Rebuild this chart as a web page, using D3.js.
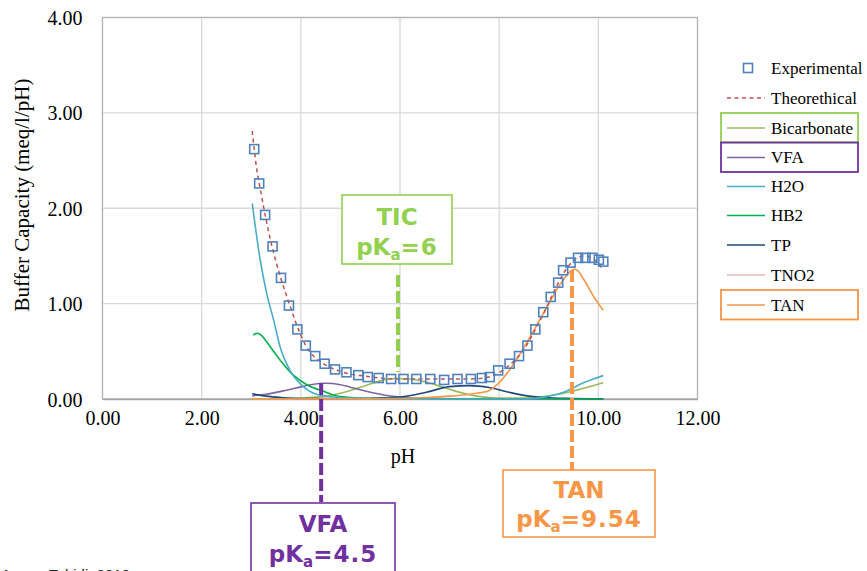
<!DOCTYPE html>
<html><head><meta charset="utf-8">
<script src="https://cdn.jsdelivr.net/npm/d3@7"></script>
<style>body{margin:0;background:#fff;}svg{display:block;}</style>
</head><body>
<svg id="c" width="867" height="571"></svg>
<script>
// ---- data (pH, buffer capacity meq/l/pH) ----
const expPH  = [3.06,3.16,3.28,3.43,3.60,3.76,3.93,4.10,4.29,4.48,4.69,4.92,5.16,5.35,5.57,5.82,6.07,6.33,6.61,6.89,7.16,7.43,7.65,7.81,7.98,8.21,8.40,8.57,8.73,8.89,9.04,9.19,9.29,9.44,9.59,9.74,9.88,10.01,10.10];
const expVal = [2.62,2.26,1.93,1.60,1.27,0.98,0.73,0.56,0.45,0.37,0.31,0.28,0.25,0.23,0.22,0.21,0.21,0.21,0.21,0.20,0.21,0.21,0.22,0.23,0.30,0.37,0.45,0.56,0.73,0.91,1.07,1.22,1.35,1.43,1.48,1.48,1.48,1.46,1.44];

const theoPH  = [3.02,3.1,3.2,3.3,3.4,3.5,3.6,3.7,3.8,3.9,4.0,4.1,4.2,4.3,4.4,4.6,4.8,5.0,5.3,5.6,6.0,6.5,7.0,7.4,7.7,7.9,8.1,8.3,8.5,8.7,8.9,9.1,9.3,9.5,9.7,9.9,10.1];
const theoVal = [2.81,2.45,2.15,1.88,1.64,1.44,1.26,1.10,0.95,0.80,0.67,0.56,0.48,0.43,0.39,0.33,0.29,0.26,0.24,0.22,0.21,0.21,0.21,0.21,0.22,0.25,0.31,0.40,0.52,0.70,0.90,1.12,1.32,1.45,1.50,1.47,1.35];

const bicPH  = [3.0,4.0,4.5,5.0,5.3,5.6,5.9,6.2,6.5,6.8,7.1,7.4,7.7,8.0,8.5,8.9,9.2,9.5,9.8,10.1];
const bicVal = [0.0,0.01,0.03,0.09,0.14,0.19,0.215,0.21,0.18,0.135,0.085,0.045,0.02,0.01,0.01,0.025,0.05,0.085,0.125,0.17];

const vfaPH  = [3.02,3.3,3.6,3.9,4.2,4.5,4.8,5.1,5.4,5.7,6.0,6.3,6.6,7.0,8.0,10.1];
const vfaVal = [0.035,0.05,0.08,0.115,0.15,0.165,0.15,0.11,0.07,0.04,0.02,0.01,0.005,0.002,0,0];

const h2oPH  = [3.02,3.18,3.31,3.45,3.58,3.78,4.05,4.39,5.0,6.0,8.5,9.0,9.3,9.5,9.7,9.9,10.1];
const h2oVal = [2.05,1.46,1.11,0.83,0.55,0.30,0.13,0.04,0.01,0.0,0.0,0.03,0.07,0.12,0.17,0.21,0.245];

const hb2PH  = [3.04,3.12,3.2,3.31,3.45,3.58,3.85,4.12,4.46,4.79,5.5,10.1];
const hb2Val = [0.67,0.69,0.67,0.60,0.50,0.41,0.25,0.15,0.08,0.025,0.005,0];

const tpPH  = [3.02,3.3,3.6,4.0,5.0,5.5,6.0,6.53,7.0,7.4,7.8,8.2,8.6,8.9,9.5,10.1];
const tpVal = [0.055,0.03,0.015,0.005,0.005,0.01,0.02,0.07,0.13,0.14,0.12,0.07,0.03,0.015,0.005,0];

const tno2PH  = [3.02,10.1];
const tno2Val = [0.0,0.0];

const tanPH  = [3.02,6.0,6.5,7.0,7.4,7.6,7.76,7.96,8.16,8.43,8.70,8.97,9.24,9.47,9.54,9.71,9.91,10.1];
const tanVal = [0.0,0.005,0.015,0.03,0.05,0.065,0.08,0.15,0.27,0.48,0.72,0.97,1.21,1.35,1.36,1.25,1.07,0.93];

const xTicks = [0,2,4,6,8,10,12];
const yTicks = [0,1,2,3,4];

const seriesNames  = ["Bicarbonate","VFA","H2O","HB2","TP","TNO2","TAN"];
const seriesColors = ["#9bbb59","#8064a2","#4bacc6","#00b050","#1f497d","#e6b9b8","#f79646"];
const seriesPH  = [bicPH,vfaPH,h2oPH,hb2PH,tpPH,tno2PH,tanPH];
const seriesVal = [bicVal,vfaVal,h2oVal,hb2Val,tpVal,tno2Val,tanVal];

// annotations: label, pKa text, marker pH (as drawn), colour
const annLabels = ["TIC","VFA","TAN"];
const annPKa    = ["6","4.5","9.54"];
const annLinePH = [5.96,4.41,9.47];
const annColors = ["#92d050","#7030a0","#f79646"];

// ---- drawing ----
const svg = d3.select("#c");
const x = d3.scaleLinear().domain([0,12]).range([102.5,697.5]);
const y = d3.scaleLinear().domain([0,4]).range([399,17.5]);
const serif = "'Liberation Serif','Times New Roman',serif";
const sans = "'DejaVu Sans',Verdana,sans-serif";

// gridlines
const g = svg.append("g");
g.selectAll("line.h").data(yTicks).join("line")
  .attr("x1",x(0)).attr("x2",x(12)).attr("y1",d=>y(d)).attr("y2",d=>y(d))
  .attr("stroke","#d9d9d9").attr("stroke-width",1.3);
g.selectAll("line.v").data(xTicks).join("line")
  .attr("y1",y(0)).attr("y2",y(4)).attr("x1",d=>x(d)).attr("x2",d=>x(d))
  .attr("stroke","#d9d9d9").attr("stroke-width",1.3);
g.append("rect").attr("x",x(0)).attr("y",y(4)).attr("width",x(12)-x(0)).attr("height",y(0)-y(4))
  .attr("fill","none").attr("stroke","#b3b3b3").attr("stroke-width",1.2);

// axes
const xAxis = svg.append("g").attr("transform",`translate(0,${y(0)})`)
  .call(d3.axisBottom(x).tickValues(xTicks).tickFormat(d3.format(".2f")).tickSize(0).tickPadding(12));
xAxis.select(".domain").attr("stroke","#a6a6a6").attr("stroke-width",1.6);
xAxis.selectAll("text").attr("font-family",serif).attr("font-size",20).attr("fill","#000");

const yAxis = svg.append("g").attr("transform",`translate(${x(0)},0)`)
  .call(d3.axisLeft(y).tickValues(yTicks).tickFormat(d3.format(".2f")).tickSize(0).tickPadding(20));
yAxis.select(".domain").remove();
yAxis.selectAll("text").attr("font-family",serif).attr("font-size",20).attr("fill","#000").attr("dy","0.35em");

svg.append("text").attr("x",403).attr("y",463).attr("text-anchor","middle")
  .attr("font-family",serif).attr("font-size",20).text("pH");
svg.append("text").attr("transform","translate(29,195) rotate(-90)").attr("text-anchor","middle")
  .attr("font-family",serif).attr("font-size",21).text("Buffer Capacity (meq/l/pH)");

// series lines
const line = d3.line().x(d=>x(d[0])).y(d=>y(d[1])).curve(d3.curveMonotoneX);
const order = [5,0,1,4,3,2,6];
order.forEach(i=>{
  const pts = seriesPH[i].map((p,j)=>[p,seriesVal[i][j]]);
  svg.append("path").attr("d",line(pts)).attr("fill","none")
    .attr("stroke",seriesColors[i]).attr("stroke-width",1.6);
});

// theoretical
svg.append("path").attr("d",line(theoPH.map((p,j)=>[p,theoVal[j]])))
  .attr("fill","none").attr("stroke","#c0504d").attr("stroke-width",1.5).attr("stroke-dasharray","4,3.5");

// experimental
svg.selectAll("rect.exp").data(expPH.map((p,j)=>[p,expVal[j]])).join("rect")
  .attr("x",d=>x(d[0])-4.5).attr("y",d=>y(d[1])-4.5).attr("width",9).attr("height",9)
  .attr("fill","none").attr("stroke","#4f81bd").attr("stroke-width",1.6);

// annotations
const annBoxes = [[342,195,110,69],[251,503,144,75],[503,470,152,67]];
const annLineY = [[275,372],[383,502],[270,470]];
const annTxtDy = [[30,60],[29,59],[28,57]];
annLabels.forEach((lab,i)=>{
  const cx = x(annLinePH[i]);
  svg.append("line").attr("x1",cx).attr("x2",cx).attr("y1",annLineY[i][0]).attr("y2",annLineY[i][1])
    .attr("stroke",annColors[i]).attr("stroke-width",4).attr("stroke-dasharray","12,4");
  const b = annBoxes[i];
  svg.append("rect").attr("x",b[0]).attr("y",b[1]).attr("width",b[2]).attr("height",b[3])
    .attr("fill","#fff").attr("stroke",annColors[i]).attr("stroke-width",1.6);
  const mx = b[0]+b[2]/2;
  svg.append("text").attr("x",mx).attr("y",b[1]+annTxtDy[i][0]).attr("text-anchor","middle")
    .attr("font-family",sans).attr("font-weight","bold").attr("font-size",23).attr("fill",annColors[i]).text(lab);
  const t = svg.append("text").attr("x",mx).attr("y",b[1]+annTxtDy[i][1]).attr("text-anchor","middle")
    .attr("font-family",sans).attr("font-weight","bold").attr("font-size",23).attr("fill",annColors[i]);
  t.append("tspan").text("pK");
  t.append("tspan").attr("font-size",15).attr("dy",5).text("a");
  t.append("tspan").attr("dy",-5).attr("letter-spacing",1).text("="+annPKa[i]);
});

// legend
const legY = [68,98,128,157.5,186.5,215.5,245,275,305];
const lg = svg.append("g");
lg.append("rect").attr("x",743.5).attr("y",legY[0]-4.5).attr("width",9).attr("height",9)
  .attr("fill","none").attr("stroke","#4f81bd").attr("stroke-width",1.6);
const legFont = 17;
lg.append("text").attr("x",771).attr("y",legY[0]).attr("dy","0.35em").attr("font-family",serif).attr("font-size",legFont).text("Experimental");
lg.append("line").attr("x1",727).attr("x2",765).attr("y1",legY[1]).attr("y2",legY[1])
  .attr("stroke","#c0504d").attr("stroke-width",1.5).attr("stroke-dasharray","4,3.5");
lg.append("text").attr("x",771).attr("y",legY[1]).attr("dy","0.35em").attr("font-family",serif).attr("font-size",legFont).text("Theorethical");
seriesNames.forEach((n,i)=>{
  const yy = legY[i+2];
  lg.append("line").attr("x1",727).attr("x2",765).attr("y1",yy).attr("y2",yy)
    .attr("stroke",seriesColors[i]).attr("stroke-width",1.6);
  lg.append("text").attr("x",771).attr("y",yy).attr("dy","0.35em").attr("font-family",serif).attr("font-size",legFont).text(n);
});
// legend highlight boxes
[[0,"#92d050"],[1,"#7030a0"],[6,"#f79646"]].forEach(([i,c])=>{
  const yy = legY[i+2];
  lg.append("rect").attr("x",721).attr("y",yy-15).attr("width",137).attr("height",29.5)
    .attr("fill","none").attr("stroke",c).attr("stroke-width",1.8);
});

// source note (cut by page bottom, as in the original)
svg.append("text").attr("x",1).attr("y",580).attr("font-family","'Liberation Sans',Arial,sans-serif")
  .attr("font-size",15).attr("fill","#222").text("Amare Tabidi, 2019");
</script>
</body></html>
